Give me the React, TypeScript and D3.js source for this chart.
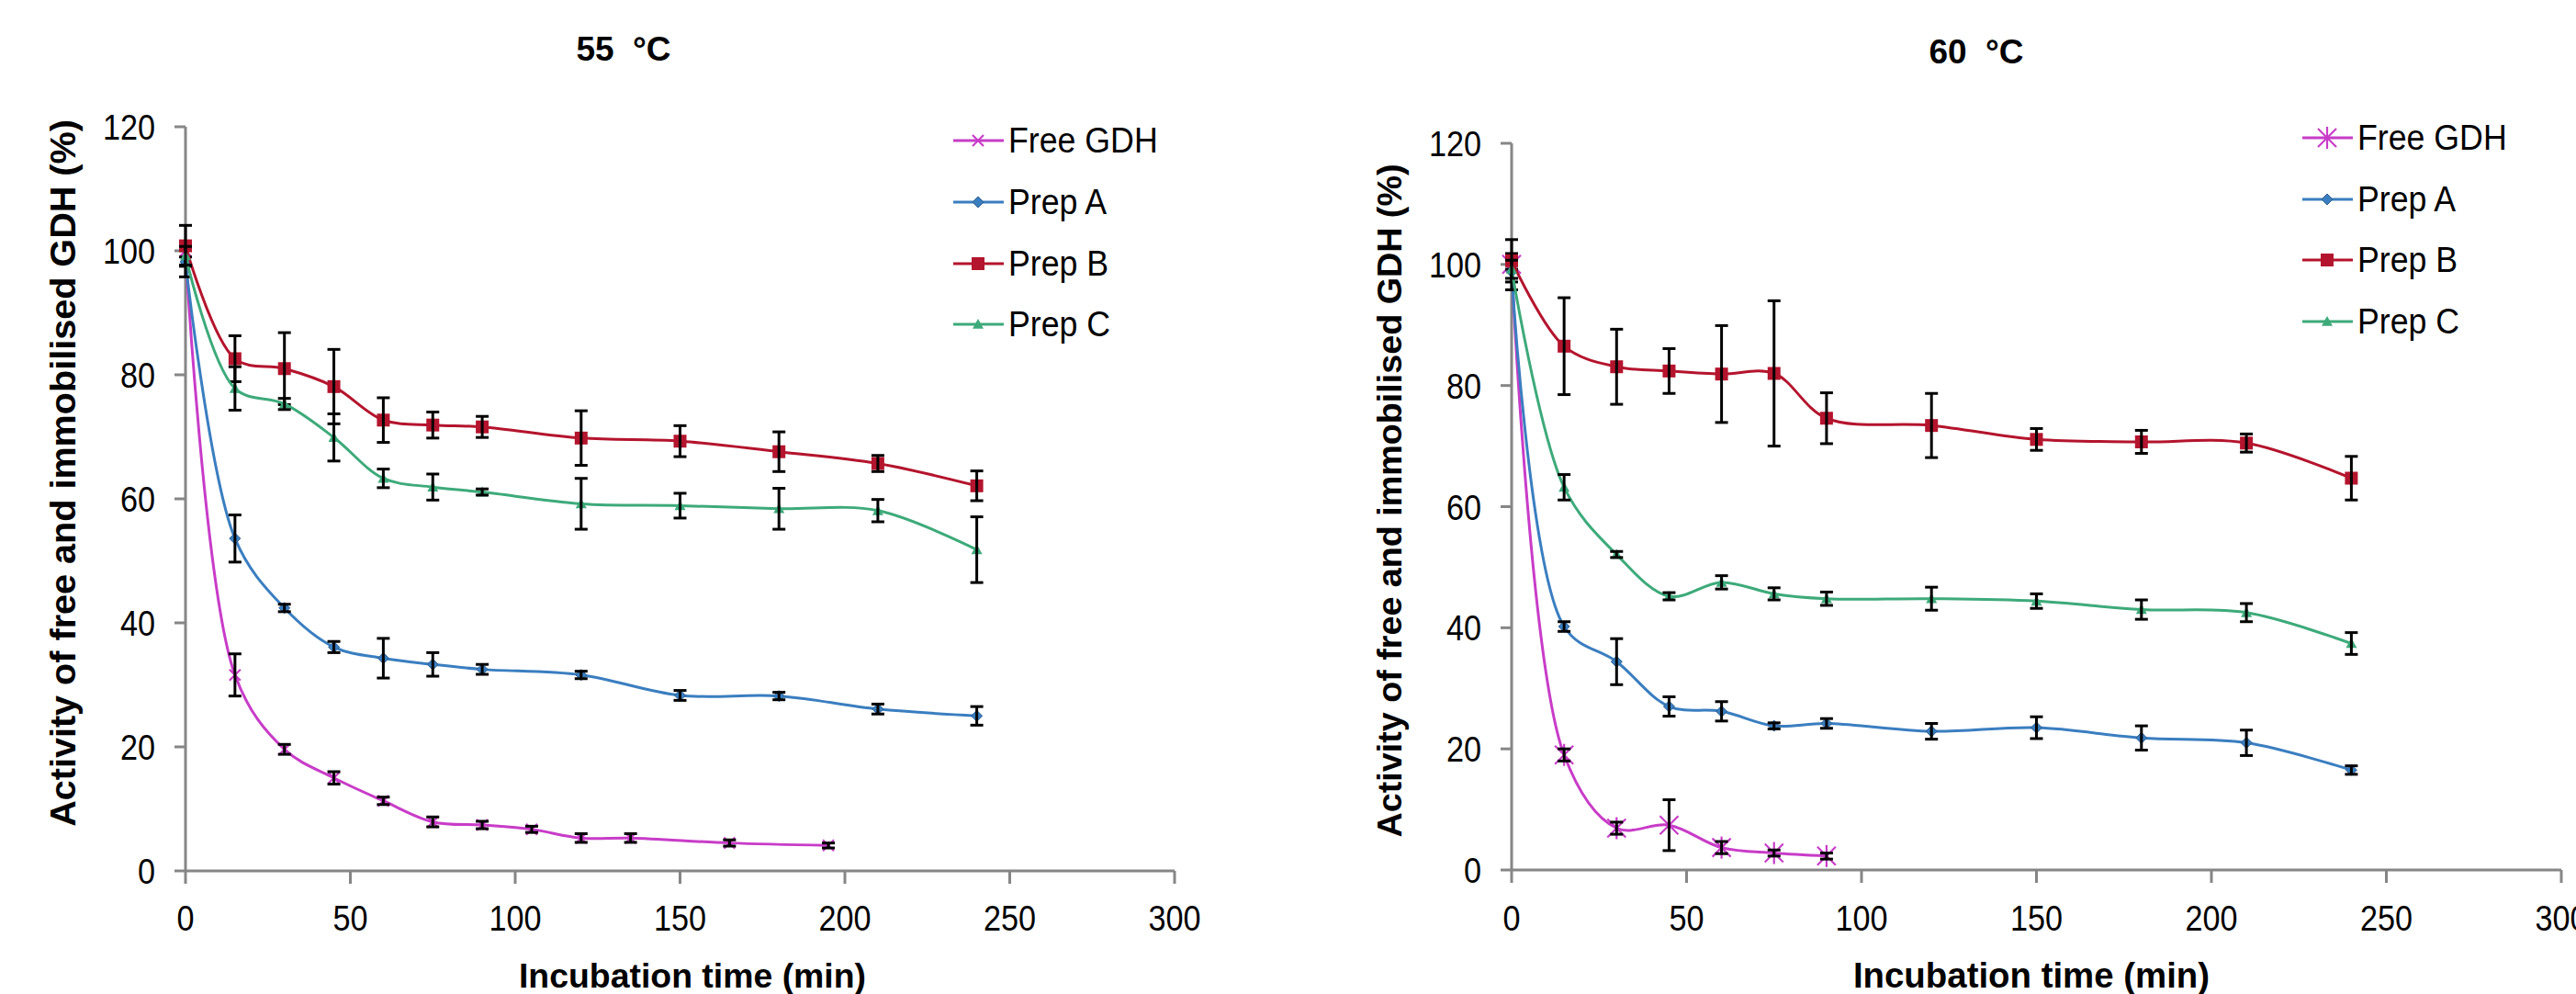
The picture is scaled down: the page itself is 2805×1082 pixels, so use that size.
import React from "react";
import * as d3 from "d3";

// ---------- data ----------
const timesFree55 = [0, 15, 30, 45, 60, 75, 90, 105, 120, 135, 165, 195];
const free55 = [100, 31.6, 19.6, 15.0, 11.3, 7.9, 7.4, 6.7, 5.3, 5.3, 4.5, 4.1];
const free55Err = [1.0, 3.4, 0.8, 1.0, 0.6, 0.8, 0.6, 0.5, 0.7, 0.7, 0.5, 0.4];

const timesPrep = [0, 15, 30, 45, 60, 75, 90, 120, 150, 180, 210, 240];
const prepA55 = [98.2, 53.6, 42.4, 36.1, 34.3, 33.3, 32.5, 31.6, 28.3, 28.2, 26.1, 25.0];
const prepA55Err = [2.4, 3.8, 0.6, 0.9, 3.2, 1.9, 0.8, 0.6, 0.8, 0.6, 0.8, 1.5];
const prepB55 = [100.8, 82.6, 81.0, 78.1, 72.7, 71.9, 71.6, 69.8, 69.3, 67.6, 65.7, 62.1];
const prepB55Err = [3.3, 3.7, 5.8, 6.0, 3.6, 2.1, 1.7, 4.4, 2.5, 3.2, 1.3, 2.4];
const prepC55 = [99.2, 77.8, 75.3, 69.9, 63.3, 61.9, 61.1, 59.2, 58.9, 58.4, 58.1, 51.8];
const prepC55Err = [1.5, 3.5, 0.9, 3.8, 1.5, 2.1, 0.5, 4.1, 2.0, 3.3, 1.8, 5.3];

const timesFree60 = [0, 15, 30, 45, 60, 75, 90];
const free60 = [100, 19.0, 6.9, 7.4, 3.7, 2.8, 2.3];
const free60Err = [0.8, 1.0, 1.0, 4.2, 1.0, 0.5, 0.5];
const prepA60 = [98.8, 40.2, 34.4, 27.0, 26.2, 23.8, 24.2, 22.9, 23.5, 21.8, 21.0, 16.5];
const prepA60Err = [3.0, 0.8, 3.8, 1.6, 1.6, 0.5, 0.8, 1.3, 1.8, 2.0, 2.1, 0.7];
const prepB60 = [100.6, 86.5, 83.1, 82.4, 81.9, 82.0, 74.6, 73.4, 71.1, 70.7, 70.5, 64.7];
const prepB60Err = [3.5, 8.0, 6.2, 3.7, 8.0, 12.0, 4.2, 5.3, 1.8, 1.9, 1.5, 3.6];
const prepC60 = [99.2, 63.2, 52.1, 45.2, 47.5, 45.6, 44.8, 44.8, 44.4, 43.0, 42.5, 37.4];
const prepC60Err = [1.5, 2.1, 0.5, 0.6, 1.1, 1.0, 1.1, 1.9, 1.2, 1.6, 1.5, 1.8];

const seriesNames = ["Free GDH", "Prep A", "Prep B", "Prep C"];
const xTicks = [0, 50, 100, 150, 200, 250, 300];
const yTicks = [0, 20, 40, 60, 80, 100, 120];
const titles = ["55 °C", "60 °C"];
const xLabel = "Incubation time (min)";
const yLabel = "Activity of free and immobilised GDH (%)";

// ---------- styles ----------
const colors = ["#c83cc8", "#3a7ec0", "#b4142d", "#3daa7a"];
const markerKinds = ["x", "diamond", "square", "triangle"];
const FONT = "'Liberation Sans', Arial, sans-serif";
const AXIS = "#868686";

type Series = { name: string; t: number[]; v: number[]; e: number[]; color: string; marker: string };

const build = (vals: number[][][], free: number[]): Series[] =>
  vals.map(([v, e], i) => ({
    name: seriesNames[i],
    t: i === 0 ? free : timesPrep,
    v,
    e,
    color: colors[i],
    marker: markerKinds[i],
  }));

const panels = [
  {
    title: titles[0],
    titleX: 679,
    titleY: 66,
    xRange: [202, 1279],
    yRange: [948, 138],
    yLabelX: 82,
    yLabelY: 515,
    yLabelSize: 39.6,
    xLabelX: 754,
    xLabelSize: 37.4,
    legendX: 1038,
    legendY: [153, 220, 287, 353],
    freeStar: false,
    series: build(
      [
        [free55, free55Err],
        [prepA55, prepA55Err],
        [prepB55, prepB55Err],
        [prepC55, prepC55Err],
      ],
      timesFree55
    ),
  },
  {
    title: titles[1],
    titleX: 2152,
    titleY: 69,
    xRange: [1646, 2789],
    yRange: [947, 156],
    yLabelX: 1526,
    yLabelY: 545,
    yLabelSize: 37.7,
    xLabelX: 2212,
    xLabelSize: 38.4,
    legendX: 2507,
    legendY: [150, 217, 283, 350],
    freeStar: true,
    series: build(
      [
        [free60, free60Err],
        [prepA60, prepA60Err],
        [prepB60, prepB60Err],
        [prepC60, prepC60Err],
      ],
      timesFree60
    ),
  },
];

function Marker({ kind, x, y, color, star }: { kind: string; x: number; y: number; color: string; star: boolean }) {
  if (kind === "x") {
    const h = star ? 10 : 6;
    return (
      <g stroke={color} strokeWidth={2.2}>
        <line x1={x - h} y1={y - h} x2={x + h} y2={y + h} />
        <line x1={x - h} y1={y + h} x2={x + h} y2={y - h} />
        {star && <line x1={x} y1={y - h * 1.2} x2={x} y2={y + h * 1.2} />}
      </g>
    );
  }
  if (kind === "diamond") {
    const h = 6;
    return <path d={`M${x},${y - h}L${x + h},${y}L${x},${y + h}L${x - h},${y}Z`} fill={color} stroke={d3.color(color)!.darker(0.8).toString()} strokeWidth={1} />;
  }
  if (kind === "square") {
    const h = 7;
    return <rect x={x - h} y={y - h} width={2 * h} height={2 * h} fill={color} />;
  }
  const h = 6;
  return <path d={`M${x},${y - h}L${x + h},${y + h * 0.8}L${x - h},${y + h * 0.8}Z`} fill={color} />;
}

function Panel({ p }: { p: (typeof panels)[number] }) {
  const x = d3.scaleLinear().domain([0, 300]).range(p.xRange);
  const y = d3.scaleLinear().domain([0, 120]).range(p.yRange);
  const line = d3
    .line<[number, number]>()
    .x((d) => x(d[0]))
    .y((d) => y(d[1]))
    .curve(d3.curveCatmullRom.alpha(0.5));
  const x0 = x(0);
  const y0 = y(0);
  return (
    <g>
      <text x={p.titleX} y={p.titleY} textAnchor="middle" fontFamily={FONT} fontWeight="bold" fontSize={37} wordSpacing={10}>
        {p.title}
      </text>
      {/* axes */}
      <g stroke={AXIS} strokeWidth={3}>
        <line x1={x0} y1={y(120)} x2={x0} y2={y0} />
        <line x1={x0} y1={y0} x2={x(300)} y2={y0} />
        {yTicks.map((t) => (
          <line key={"yt" + t} x1={x0 - 12} x2={x0} y1={y(t)} y2={y(t)} />
        ))}
        {xTicks.map((t) => (
          <line key={"xt" + t} x1={x(t)} x2={x(t)} y1={y0} y2={y0 + 14} />
        ))}
      </g>
      {yTicks.map((t) => (
        <g key={"yl" + t} transform={`translate(${x0 - 33},${y(t) + 14}) scale(0.9,1)`}>
          <text textAnchor="end" fontFamily={FONT} fontSize={38}>
            {t}
          </text>
        </g>
      ))}
      {xTicks.map((t) => (
        <g key={"xl" + t} transform={`translate(${x(t)},${1013}) scale(0.9,1)`}>
          <text textAnchor="middle" fontFamily={FONT} fontSize={38}>
            {t}
          </text>
        </g>
      ))}
      <text x={p.xLabelX} y={1075} textAnchor="middle" fontFamily={FONT} fontWeight="bold" fontSize={p.xLabelSize}>
        {xLabel}
      </text>
      <text
        transform={`translate(${p.yLabelX},${p.yLabelY}) rotate(-90)`}
        textAnchor="middle"
        fontFamily={FONT}
        fontWeight="bold"
        fontSize={p.yLabelSize}
      >
        {yLabel}
      </text>
      {/* series */}
      {p.series.map((s) => {
        const pts: [number, number][] = s.t.map((t, i) => [t, s.v[i]]);
        return (
          <g key={s.name}>
            <path d={line(pts) || ""} fill="none" stroke={s.color} strokeWidth={3} />
            {pts.map((d, i) => (
              <Marker key={i} kind={s.marker} x={x(d[0])} y={y(d[1])} color={s.color} star={p.freeStar} />
            ))}
            <g stroke="#000" strokeWidth={3}>
              {pts.map((d, i) => {
                const cx = x(d[0]);
                const top = y(d[1] + s.e[i]);
                const bot = y(d[1] - s.e[i]);
                return (
                  <g key={"e" + i}>
                    <line x1={cx} x2={cx} y1={top} y2={bot} />
                    <line x1={cx - 7} x2={cx + 7} y1={top} y2={top} />
                    <line x1={cx - 7} x2={cx + 7} y1={bot} y2={bot} />
                  </g>
                );
              })}
            </g>
          </g>
        );
      })}
      {/* legend */}
      {p.series.map((s, i) => {
        const ly = p.legendY[i];
        return (
          <g key={"lg" + s.name}>
            <line x1={p.legendX} x2={p.legendX + 55} y1={ly} y2={ly} stroke={s.color} strokeWidth={3} />
            <Marker kind={s.marker} x={p.legendX + 27} y={ly} color={s.color} star={p.freeStar} />
            <g transform={`translate(${p.legendX + 60},${ly + 13}) scale(0.94,1)`}>
              <text fontFamily={FONT} fontSize={38}>
                {s.name}
              </text>
            </g>
          </g>
        );
      })}
    </g>
  );
}

export default function App() {
  return (
    <svg
      width={2805}
      height={1082}
      style={{ position: "absolute", left: 0, top: 0, background: "#fff" }}
      xmlns="http://www.w3.org/2000/svg"
    >
      <rect width={2805} height={1082} fill="#fff" />
      {panels.map((p, i) => (
        <Panel key={i} p={p} />
      ))}
    </svg>
  );
}
